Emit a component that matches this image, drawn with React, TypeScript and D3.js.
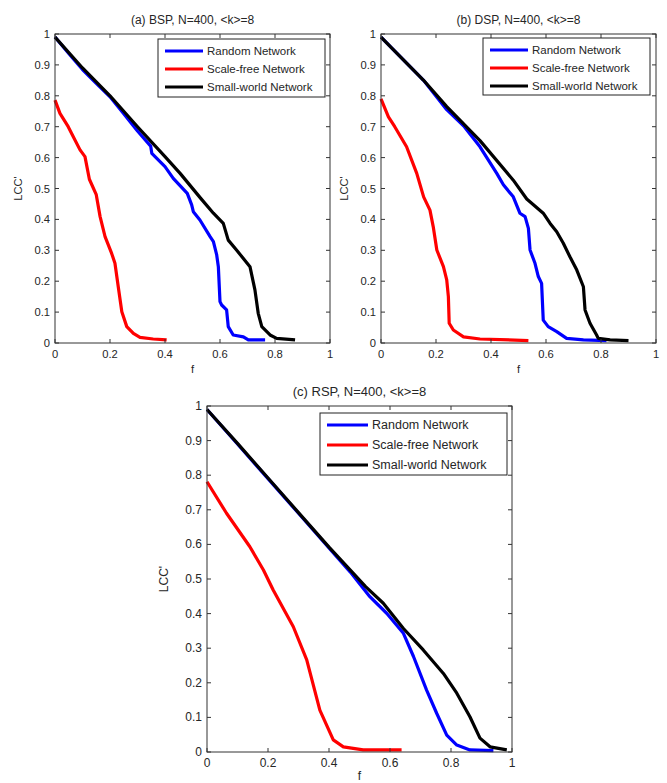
import React from "react";
import * as d3 from "d3";

type Pt = [number, number];

const seriesNames = ["Random Network", "Scale-free Network", "Small-world Network"];
const seriesColors = ["#0000ff", "#ff0000", "#000000"];
const xTicks = [0, 0.2, 0.4, 0.6, 0.8, 1];
const yTicks = [0, 0.1, 0.2, 0.3, 0.4, 0.5, 0.6, 0.7, 0.8, 0.9, 1];
const xTickLabels = ["0", "0.2", "0.4", "0.6", "0.8", "1"];
const yTickLabels = ["0", "0.1", "0.2", "0.3", "0.4", "0.5", "0.6", "0.7", "0.8", "0.9", "1"];

// (a) BSP
const bspRandom: Pt[] = [[0,0.99],[0.05,0.937],[0.1,0.885],[0.15,0.84],[0.2,0.797],[0.25,0.742],[0.3,0.686],[0.348,0.637],[0.352,0.614],[0.4,0.571],[0.43,0.533],[0.481,0.484],[0.497,0.447],[0.503,0.425],[0.527,0.398],[0.564,0.344],[0.576,0.328],[0.588,0.285],[0.594,0.247],[0.6,0.134],[0.606,0.123],[0.624,0.107],[0.63,0.053],[0.648,0.026],[0.685,0.02],[0.703,0.01],[0.764,0.01]];
const bspScaleFree: Pt[] = [[0,0.786],[0.018,0.743],[0.048,0.7],[0.06,0.679],[0.091,0.625],[0.109,0.603],[0.125,0.53],[0.15,0.48],[0.164,0.409],[0.182,0.344],[0.206,0.29],[0.218,0.258],[0.23,0.182],[0.243,0.101],[0.261,0.053],[0.285,0.031],[0.309,0.018],[0.357,0.013],[0.406,0.01]];
const bspSmallWorld: Pt[] = [[0,0.99],[0.1,0.89],[0.2,0.8],[0.3,0.7],[0.4,0.603],[0.455,0.549],[0.53,0.468],[0.576,0.42],[0.612,0.387],[0.63,0.333],[0.66,0.301],[0.709,0.247],[0.727,0.172],[0.739,0.096],[0.752,0.053],[0.782,0.026],[0.806,0.015],[0.873,0.01]];

// (b) DSP
const dspRandom: Pt[] = [[0,0.99],[0.154,0.851],[0.239,0.755],[0.303,0.7],[0.36,0.635],[0.421,0.549],[0.445,0.512],[0.481,0.473],[0.505,0.42],[0.524,0.409],[0.536,0.371],[0.542,0.301],[0.56,0.258],[0.572,0.215],[0.584,0.193],[0.59,0.074],[0.608,0.053],[0.639,0.037],[0.675,0.015],[0.736,0.01],[0.82,0.008]];
const dspScaleFree: Pt[] = [[0,0.79],[0.027,0.732],[0.05,0.7],[0.093,0.635],[0.13,0.549],[0.155,0.473],[0.178,0.43],[0.19,0.376],[0.203,0.301],[0.227,0.247],[0.239,0.204],[0.245,0.15],[0.248,0.064],[0.263,0.042],[0.3,0.02],[0.36,0.013],[0.536,0.008]];
const dspSmallWorld: Pt[] = [[0,0.99],[0.154,0.851],[0.239,0.765],[0.36,0.655],[0.481,0.527],[0.53,0.466],[0.59,0.42],[0.615,0.387],[0.639,0.36],[0.663,0.323],[0.687,0.279],[0.712,0.236],[0.736,0.182],[0.742,0.107],[0.76,0.064],[0.784,0.026],[0.79,0.015],[0.833,0.01],[0.9,0.008]];

// (c) RSP
const rspRandom: Pt[] = [[0,0.99],[0.1,0.89],[0.2,0.79],[0.3,0.69],[0.4,0.59],[0.47,0.52],[0.534,0.449],[0.589,0.401],[0.644,0.343],[0.677,0.276],[0.72,0.179],[0.753,0.112],[0.786,0.049],[0.819,0.02],[0.862,0.006],[0.939,0.004]];
const rspScaleFree: Pt[] = [[0,0.781],[0.064,0.69],[0.14,0.594],[0.185,0.526],[0.217,0.468],[0.283,0.362],[0.327,0.266],[0.37,0.121],[0.414,0.035],[0.447,0.015],[0.512,0.006],[0.638,0.006]];
const rspSmallWorld: Pt[] = [[0,0.99],[0.1,0.892],[0.2,0.792],[0.3,0.692],[0.4,0.592],[0.46,0.535],[0.52,0.478],[0.578,0.43],[0.644,0.357],[0.709,0.295],[0.775,0.227],[0.819,0.17],[0.862,0.102],[0.895,0.04],[0.928,0.015],[0.983,0.006]];

const titles = ["(a) BSP, N=400, <k>=8", "(b) DSP, N=400, <k>=8", "(c) RSP, N=400, <k>=8"];

interface PanelCfg {
  title: string;
  left: number; right: number; top: number; bottom: number;
  data: Pt[][];
  legend: { x: number; y: number; w: number; h: number; rowGap: number; fs: number; lineLen: number };
  fs: number;
  titleFs: number;
  xLabelY: number;
  yLabelX: number;
}

const panels: PanelCfg[] = [
  { title: titles[0], left: 55, right: 330, top: 34, bottom: 343, data: [bspRandom, bspScaleFree, bspSmallWorld],
    legend: { x: 158, y: 39, w: 167, h: 58, rowGap: 18, fs: 11.5, lineLen: 38 }, fs: 11.2, titleFs: 12, xLabelY: 373, yLabelX: 22 },
  { title: titles[1], left: 381, right: 656, top: 34, bottom: 343, data: [dspRandom, dspScaleFree, dspSmallWorld],
    legend: { x: 483, y: 38, w: 167, h: 57, rowGap: 18, fs: 11.5, lineLen: 38 }, fs: 11.2, titleFs: 12, xLabelY: 373, yLabelX: 348 },
  { title: titles[2], left: 207, right: 512, top: 406, bottom: 752, data: [rspRandom, rspScaleFree, rspSmallWorld],
    legend: { x: 320, y: 413, w: 187, h: 62, rowGap: 20, fs: 12.5, lineLen: 41 }, fs: 12, titleFs: 13, xLabelY: 780, yLabelX: 168 },
];

const textColor = "#262626";

function Panel({ cfg }: { cfg: PanelCfg }) {
  const x = d3.scaleLinear().domain([0, 1]).range([cfg.left, cfg.right]);
  const y = d3.scaleLinear().domain([0, 1]).range([cfg.bottom, cfg.top]);
  const line = d3.line<Pt>().x((d) => x(d[0])).y((d) => y(d[1]));
  const tl = 4;
  const L = cfg.legend;
  return (
    <g fontFamily="'Liberation Sans', Arial, sans-serif">
      <rect x={cfg.left} y={cfg.top} width={cfg.right - cfg.left} height={cfg.bottom - cfg.top} fill="#fff" />
      {cfg.data.map((d, i) => (
        <path key={i} d={line(d) || ""} fill="none" stroke={seriesColors[i]} strokeWidth={3.2} strokeLinejoin="round" strokeLinecap="butt" />
      ))}
      <rect x={cfg.left} y={cfg.top} width={cfg.right - cfg.left} height={cfg.bottom - cfg.top} fill="none" stroke="#333" strokeWidth={1} />
      {xTicks.map((t, i) => (
        <g key={"x" + i}>
          <line x1={x(t)} x2={x(t)} y1={cfg.bottom} y2={cfg.bottom - tl} stroke="#333" />
          <line x1={x(t)} x2={x(t)} y1={cfg.top} y2={cfg.top + tl} stroke="#333" />
          <text x={x(t)} y={cfg.bottom + 15} textAnchor="middle" fontSize={cfg.fs} fill={textColor}>{xTickLabels[i]}</text>
        </g>
      ))}
      {yTicks.map((t, i) => (
        <g key={"y" + i}>
          <line x1={cfg.left} x2={cfg.left + tl} y1={y(t)} y2={y(t)} stroke="#333" />
          <line x1={cfg.right} x2={cfg.right - tl} y1={y(t)} y2={y(t)} stroke="#333" />
          <text x={cfg.left - 5} y={y(t) + 4} textAnchor="end" fontSize={cfg.fs} fill={textColor}>{yTickLabels[i]}</text>
        </g>
      ))}
      <text x={(cfg.left + cfg.right) / 2} y={cfg.top - 10} textAnchor="middle" fontSize={cfg.titleFs} fill={textColor}>{cfg.title}</text>
      <text x={(cfg.left + cfg.right) / 2} y={cfg.xLabelY} textAnchor="middle" fontSize={cfg.fs} fill={textColor}>f</text>
      <text transform={`translate(${cfg.yLabelX},${(cfg.top + cfg.bottom) / 2}) rotate(-90)`} textAnchor="middle" fontSize={cfg.fs} fill={textColor}>LCC'</text>
      <rect x={L.x} y={L.y} width={L.w} height={L.h} fill="#fff" stroke="#222" strokeWidth={1} />
      {seriesNames.map((n, i) => {
        const ry = L.y + 12 + i * L.rowGap;
        return (
          <g key={"l" + i}>
            <line x1={L.x + 7} x2={L.x + 7 + L.lineLen} y1={ry} y2={ry} stroke={seriesColors[i]} strokeWidth={3.2} />
            <text x={L.x + 11 + L.lineLen} y={ry + 4} fontSize={L.fs} fill={textColor}>{n}</text>
          </g>
        );
      })}
    </g>
  );
}

export default function App() {
  return (
    <svg width={667} height={783} style={{ position: "absolute", left: 0, top: 0, background: "#fff" }}>
      <rect x={0} y={0} width={667} height={783} fill="#fff" />
      {panels.map((p, i) => (
        <Panel key={i} cfg={p} />
      ))}
    </svg>
  );
}
